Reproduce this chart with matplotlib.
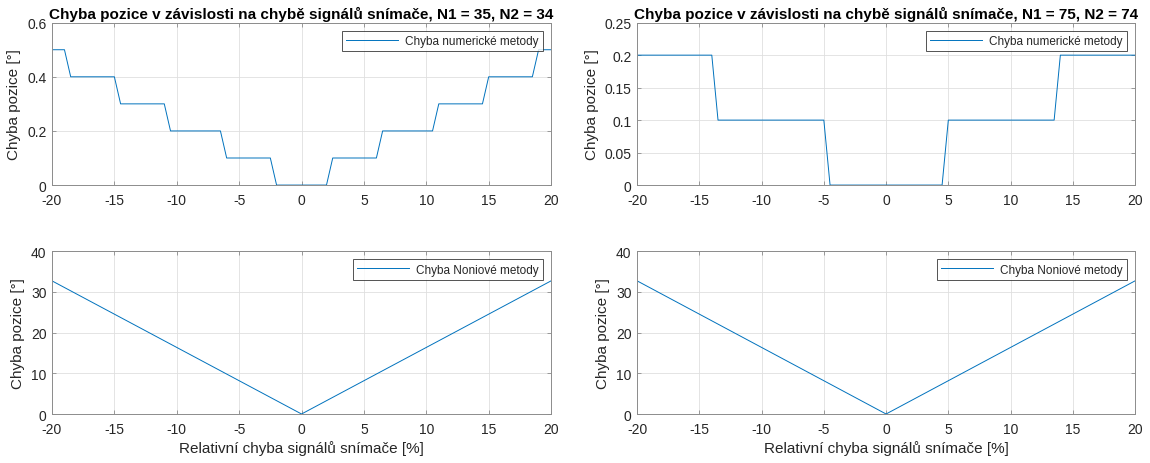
import numpy as np
import matplotlib.pyplot as plt
from matplotlib.ticker import FuncFormatter

OUTPUT_PLOT = 'out.png'

# relative error of the sensor signals [%], sampled every 0.5 %
x_step = np.linspace(-20, 20, 81)

# position error of the numeric method, N1 = 35, N2 = 34
err_num_35 = [0.5, 0.5, 0.5, 0.4, 0.4, 0.4, 0.4, 0.4, 0.4, 0.4, 0.4,
              0.3, 0.3, 0.3, 0.3, 0.3, 0.3, 0.3, 0.3,
              0.2, 0.2, 0.2, 0.2, 0.2, 0.2, 0.2, 0.2, 0.2,
              0.1, 0.1, 0.1, 0.1, 0.1, 0.1, 0.1, 0.1,
              0.0, 0.0, 0.0, 0.0, 0.0, 0.0, 0.0, 0.0, 0.0,
              0.1, 0.1, 0.1, 0.1, 0.1, 0.1, 0.1, 0.1,
              0.2, 0.2, 0.2, 0.2, 0.2, 0.2, 0.2, 0.2, 0.2,
              0.3, 0.3, 0.3, 0.3, 0.3, 0.3, 0.3, 0.3,
              0.4, 0.4, 0.4, 0.4, 0.4, 0.4, 0.4, 0.4,
              0.5, 0.5, 0.5]

# position error of the numeric method, N1 = 75, N2 = 74
err_num_75 = [0.2, 0.2, 0.2, 0.2, 0.2, 0.2, 0.2, 0.2, 0.2, 0.2, 0.2, 0.2, 0.2,
              0.1, 0.1, 0.1, 0.1, 0.1, 0.1, 0.1, 0.1, 0.1, 0.1, 0.1, 0.1, 0.1, 0.1, 0.1, 0.1, 0.1, 0.1,
              0.0, 0.0, 0.0, 0.0, 0.0, 0.0, 0.0, 0.0, 0.0, 0.0, 0.0, 0.0, 0.0, 0.0, 0.0, 0.0, 0.0, 0.0, 0.0,
              0.1, 0.1, 0.1, 0.1, 0.1, 0.1, 0.1, 0.1, 0.1, 0.1, 0.1, 0.1, 0.1, 0.1, 0.1, 0.1, 0.1, 0.1,
              0.2, 0.2, 0.2, 0.2, 0.2, 0.2, 0.2, 0.2, 0.2, 0.2, 0.2, 0.2, 0.2]

# vernier (Noniova) method error, linear V shape
x_vernier = [-20, 0, 20]
err_vernier_35 = [32.7, 0.0, 32.7]
err_vernier_75 = [32.7, 0.0, 32.7]

titles = ['Chyba pozice v závislosti na chybě signálů snímače, N1 = 35, N2 = 34',
          'Chyba pozice v závislosti na chybě signálů snímače, N1 = 75, N2 = 74']
xticks = [-20, -15, -10, -5, 0, 5, 10, 15, 20]

LINE_COLOR = '#0072BD'
TEXT_COLOR = '#262626'
EDGE_COLOR = '#8c8c8c'

plt.rcParams['font.family'] = ['Liberation Sans', 'DejaVu Sans']


def style_axes(ax, ymax, yticks):
    ax.set_xlim(-20, 20)
    ax.set_ylim(0, ymax)
    ax.set_xticks(xticks)
    ax.set_yticks(yticks)
    ax.xaxis.set_major_formatter(FuncFormatter(lambda v, p: '%g' % v))
    ax.yaxis.set_major_formatter(FuncFormatter(lambda v, p: '%g' % round(v, 4)))
    ax.tick_params(direction='in', length=3, width=0.6, labelsize=10,
                   colors=EDGE_COLOR, labelcolor=TEXT_COLOR,
                   top=True, right=True)
    ax.tick_params(axis='x', pad=6)
    ax.tick_params(axis='y', pad=4)
    ax.grid(True, color='#dfdfdf', linewidth=0.6)
    ax.set_axisbelow(True)
    for s in ax.spines.values():
        s.set_color(EDGE_COLOR)
        s.set_linewidth(0.7)
    ax.set_ylabel('Chyba pozice [°]', fontsize=11, color=TEXT_COLOR, labelpad=4)


def add_legend(ax, label):
    leg = ax.legend([label], loc='upper right', fontsize=8.5, frameon=True,
                    fancybox=False, handlelength=4.4, borderpad=0.35,
                    borderaxespad=0.7, handletextpad=0.6)
    leg.get_frame().set_edgecolor('#262626')
    leg.get_frame().set_linewidth(0.7)
    for t in leg.get_texts():
        t.set_color(TEXT_COLOR)


def main():
    fig = plt.figure(figsize=(11.5, 4.64), dpi=100)
    ax_tl = fig.add_axes([0.0452, 0.599, 0.434, 0.350])
    ax_bl = fig.add_axes([0.0452, 0.1056, 0.434, 0.351])
    ax_tr = fig.add_axes([0.554, 0.599, 0.433, 0.350])
    ax_br = fig.add_axes([0.554, 0.1056, 0.433, 0.351])

    ax_tl.plot(x_step, err_num_35, color=LINE_COLOR, linewidth=0.7)
    style_axes(ax_tl, 0.6, [0, 0.2, 0.4, 0.6])
    add_legend(ax_tl, 'Chyba numerické metody')
    ax_tl.set_title(titles[0], fontsize=11, fontweight='bold', pad=3)

    ax_tr.plot(x_step, err_num_75, color=LINE_COLOR, linewidth=0.7)
    style_axes(ax_tr, 0.25, [0, 0.05, 0.1, 0.15, 0.2, 0.25])
    add_legend(ax_tr, 'Chyba numerické metody')
    ax_tr.set_title(titles[1], fontsize=11, fontweight='bold', pad=3)

    for ax, err in [(ax_bl, err_vernier_35), (ax_br, err_vernier_75)]:
        ax.plot(x_vernier, err, color=LINE_COLOR, linewidth=0.7)
        style_axes(ax, 40, [0, 10, 20, 30, 40])
        add_legend(ax, 'Chyba Noniové metody')
        ax.set_xlabel('Relativní chyba signálů snímače [%]', fontsize=11,
                      color=TEXT_COLOR, labelpad=3)

    fig.savefig(OUTPUT_PLOT, dpi=100)


if __name__ == '__main__':
    main()
